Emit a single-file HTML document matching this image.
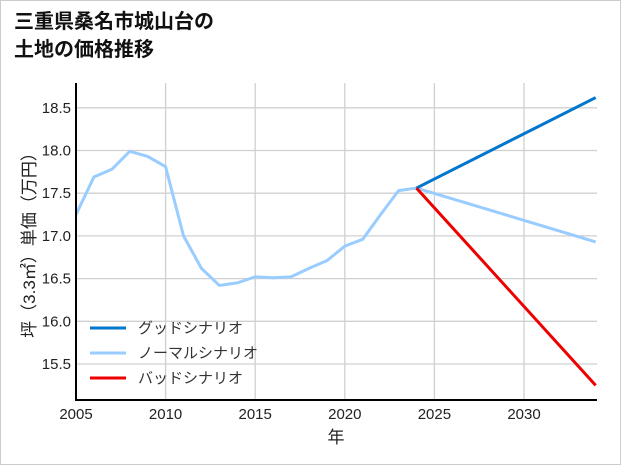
<!DOCTYPE html>
<html><head><meta charset="utf-8"><style>
body{margin:0;background:#fff}
#wrap{position:relative;width:619px;height:463px;border:1px solid #ccc;background:#fff;font-family:"Liberation Sans","Noto Sans CJK JP",sans-serif}
#title{position:absolute;left:13px;top:7px;font-size:20px;font-weight:bold;line-height:28px;color:#111}
svg{position:absolute;left:0;top:0}
</style></head><body>
<div id="wrap">
<div id="title">三重県桑名市城山台の<br>土地の価格推移</div>
<svg id="chart" width="621" height="465" font-family="Liberation Sans, Noto Sans CJK JP, sans-serif"></svg>
</div>
<script>
const years=[2005,2006,2007,2008,2009,2010,2011,2012,2013,2014,2015,2016,2017,2018,2019,2020,2021,2022,2023,2024];
const hist=[17.25,17.69,17.78,17.99,17.93,17.81,17.0,16.62,16.42,16.45,16.52,16.51,16.52,16.62,16.71,16.88,16.96,17.25,17.53,17.56];
const projYears=[2024,2034];
const good=[17.56,18.62];
const normal=[17.56,16.93];
const bad=[17.56,15.25];
const xTicks=[2005,2010,2015,2020,2025,2030];
const yTicks=[15.5,16.0,16.5,17.0,17.5,18.0,18.5];
const L=75,R=596,T=82,B=399;
const x=v=>L+(v-2005)*17.92;
const y=v=>363-(v-15.5)*85.4;
const svg=document.getElementById('chart');
const NS='http://www.w3.org/2000/svg';
function mk(t,a){const e=document.createElementNS(NS,t);for(const k in a)e.setAttribute(k,a[k]);svg.appendChild(e);return e;}
xTicks.forEach(v=>{const g=mk('line',{x1:x(v),x2:x(v),y1:T,y2:B,stroke:'#d0d0d0','stroke-width':1.3});


const t=mk('text',{x:x(v),y:418,'text-anchor':'middle','font-size':15,fill:'#222'});t.textContent=v;

});
yTicks.forEach(v=>{const g=mk('line',{x1:L,x2:R,y1:y(v),y2:y(v),stroke:'#d0d0d0','stroke-width':1.3});


const t=mk('text',{x:70,y:y(v)+5,'text-anchor':'end','font-size':15,fill:'#222'});t.textContent=v.toFixed(1);

});
function line(xs,vs,c,n){const p=mk('polyline',{points:xs.map((a,i)=>x(a)+','+y(vs[i])).join(' '),fill:'none',stroke:c,'stroke-width':3,'stroke-linejoin':'round'});

}
line(years,hist,'#99ccff','normal-history-line');
line(projYears,normal,'#99ccff','normal-scenario-line');
line(projYears,good,'#0077cc','good-scenario-line');
line(projYears,bad,'#ee0000','bad-scenario-line');
const ax=mk('polyline',{points:`${L},${T} ${L},${B} ${R},${B}`,fill:'none',stroke:'#000','stroke-width':2});


const xt=mk('text',{x:335,y:442,'text-anchor':'middle','font-size':17,fill:'#222'});xt.textContent='年';


const yt=mk('text',{x:0,y:0,'text-anchor':'middle','font-size':17,fill:'#222',transform:'translate(34,240) rotate(-90)'});yt.textContent='坪（3.3㎡）単価（万円）';


[['グッドシナリオ','#0077cc'],['ノーマルシナリオ','#99ccff'],['バッドシナリオ','#ee0000']].forEach((d,i)=>{
const yy=327+i*25;
const l=mk('line',{x1:89,x2:125,y1:yy,y2:yy,stroke:d[1],'stroke-width':3});


const t=mk('text',{x:137,y:yy+5,'font-size':15,fill:'#333'});t.textContent=d[0];

});
</script>
</body></html>
